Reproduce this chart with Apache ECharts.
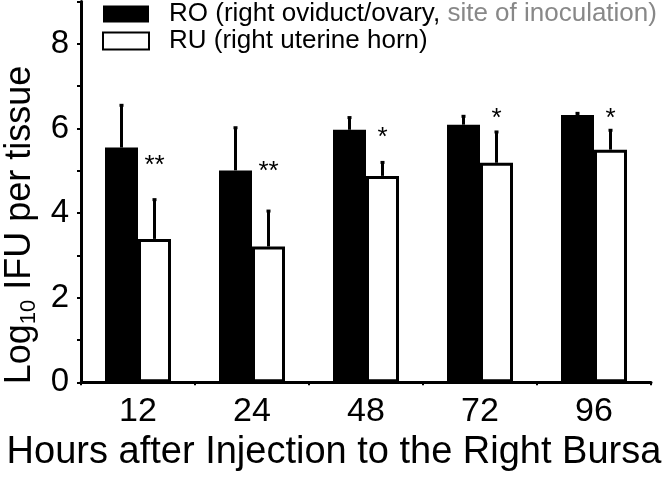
<!DOCTYPE html>
<html>
<head>
<meta charset="utf-8">
<script src="https://cdn.jsdelivr.net/npm/echarts@6/dist/echarts.min.js"></script>
<style>html,body{margin:0;padding:0;background:#fff;}#c{width:667px;height:477px;}</style>
</head>
<body>
<div id="c"></div>
<script>
const categories = ['12', '24', '48', '72', '96'];
const seriesNames = ['RO', 'RU'];
const roValues = [5.55, 5.01, 5.97, 6.09, 6.32];
const roErrors = [1.01, 1.02, 0.30, 0.21, 0.05];
const ruValues = [3.39, 3.21, 4.88, 5.19, 5.50];
const ruErrors = [0.94, 0.85, 0.33, 0.74, 0.47];
const stars = ['**', '**', '*', '*', '*'];
const starLevels = [5.29, 5.15, 5.95, 6.39, 6.39];
const yTicks = [0, 2, 4, 6, 8];

const FONT = '"Liberation Sans", Arial, sans-serif';
const HALF = 16.5;

const chart = echarts.init(document.getElementById('c'), null, {renderer: 'canvas'});

function errRender(offset) {
  return function (params, api) {
    const i = api.value(0);
    const top = api.coord([i, api.value(1) + api.value(2)]);
    const base = api.coord([i, api.value(1)]);
    const x = top[0] + offset;
    return {
      type: 'group',
      children: [
        {type: 'line', shape: {x1: x, y1: base[1], x2: x, y2: top[1]}, style: {stroke: '#000', lineWidth: 3}},
        {type: 'rect', shape: {x: x - 2, y: top[1] - 1, width: 4, height: 3}, style: {fill: '#000'}}
      ]
    };
  };
}

const option = {
  backgroundColor: '#fff',
  animation: false,
  grid: {left: 81, right: 16, top: 1.6, bottom: 94.7, containLabel: false, outerBoundsMode: 'none'},
  legend: {
    orient: 'vertical',
    left: 102,
    top: 1,
    padding: 0,
    itemWidth: 46,
    itemHeight: 17,
    itemGap: 1,
    icon: 'rect',
    data: seriesNames,
    formatter: function (name) {
      if (name === 'RO') return '{b|RO (right oviduct/ovary, }{g|site of inoculation)}';
      return '{b|RU (right uterine horn)}';
    },
    textStyle: {
      padding: [0, 0, 0, 15],
      rich: {
        b: {fontFamily: FONT, fontSize: 26, color: '#000', lineHeight: 28},
        g: {fontFamily: FONT, fontSize: 26, color: '#888', lineHeight: 28}
      }
    }
  },
  xAxis: {
    type: 'category',
    data: categories,
    axisLine: {lineStyle: {color: '#000', width: 3}},
    axisTick: {show: true, alignWithLabel: false, length: 3, lineStyle: {color: '#000', width: 2}},
    axisLabel: {color: '#000', fontFamily: FONT, fontSize: 34, margin: 12},
    name: 'Hours after Injection to the Right Bursa',
    nameLocation: 'middle',
    nameGap: 50,
    nameTextStyle: {color: '#000', fontFamily: FONT, fontSize: 38, padding: [0, 64, 0, 0]}
  },
  yAxis: {
    type: 'value',
    min: 0,
    max: 9,
    interval: 1,
    splitLine: {show: false},
    axisLine: {show: true, lineStyle: {color: '#000', width: 3}},
    axisTick: {show: true, length: 4, lineStyle: {color: '#000', width: 2}},
    axisLabel: {
      color: '#000', fontFamily: FONT, fontSize: 33, margin: 12,
      formatter: function (v) { return yTicks.indexOf(v) >= 0 ? String(v) : ''; }
    },
    name: '{a|Log}{s|10}{a| IFU per tissue}',
    nameLocation: 'middle',
    nameRotate: 90,
    nameGap: 40,
    nameTextStyle: {
      padding: [0, 66, 0, 0],
      rich: {
        a: {fontFamily: FONT, fontSize: 36, color: '#000', lineHeight: 40},
        s: {fontFamily: FONT, fontSize: 22, color: '#000', verticalAlign: 'bottom', lineHeight: 40, padding: [14, 0, 0, 0]}
      }
    }
  },
  series: [
    {
      name: 'RO', type: 'bar', data: roValues, barWidth: 33, barGap: '0%',
      itemStyle: {color: '#000', borderColor: '#000', borderWidth: 0}
    },
    {
      name: 'RU', type: 'bar', data: ruValues, barWidth: 33, barGap: '0%',
      itemStyle: {color: '#fff', borderColor: '#000', borderWidth: 3}
    },
    {
      type: 'custom', z: 5,
      data: categories.map((c, i) => [i, roValues[i], roErrors[i]]),
      renderItem: errRender(-HALF)
    },
    {
      type: 'custom', z: 5,
      data: categories.map((c, i) => [i, ruValues[i], ruErrors[i]]),
      renderItem: errRender(HALF)
    },
    {
      type: 'custom', z: 6,
      data: categories.map((c, i) => [i, starLevels[i]]),
      renderItem: function (params, api) {
        const p = api.coord([api.value(0), api.value(1)]);
        return {
          type: 'text',
          style: {
            x: p[0] + HALF, y: p[1] + 7, text: stars[params.dataIndex],
            fill: '#000', font: '26px ' + FONT, align: 'center', verticalAlign: 'middle'
          }
        };
      }
    }
  ]
};
chart.setOption(option);
</script>
</body>
</html>
